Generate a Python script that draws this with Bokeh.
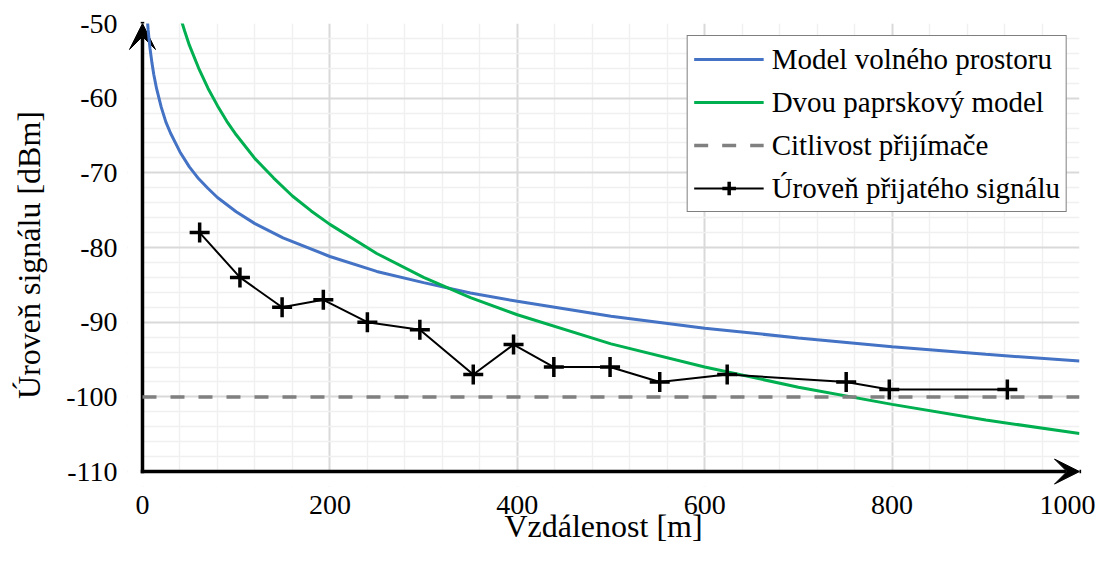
from bokeh.plotting import figure
from bokeh.models import Range1d, FixedTicker, Arrow, VeeHead, Legend, LegendItem, BoxAnnotation
from bokeh.embed import file_html
from bokeh.resources import INLINE

# ---- data ----
x_tick_values = [0, 200, 400, 600, 800, 1000]
x_minor_values = [40, 80, 120, 160, 240, 280, 320, 360, 440, 480, 520, 560,
                  640, 680, 720, 760, 840, 880, 920, 960]
y_tick_values = [-110, -100, -90, -80, -70, -60, -50]
y_tick_labels = ["-110", "-100", "-90", "-80", "-70", "-60", "-50"]
y_minor_values = [v for v in range(-110, -49, 2) if v % 10 != 0]

free_space_dist = [5, 6, 7, 8, 10, 12, 15, 20, 25, 30, 40, 50, 60, 70, 80, 100,
                   120, 150, 200, 250, 300, 350, 400, 500, 600, 700, 800, 900, 1000]
free_space_level = [-49.2, -50.8, -52.1, -53.3, -55.2, -56.8, -58.7, -61.2, -63.2,
                    -64.7, -67.2, -69.2, -70.8, -72.1, -73.3, -75.2, -76.8, -78.7,
                    -81.2, -83.2, -84.7, -86.1, -87.2, -89.2, -90.8, -92.1, -93.3,
                    -94.3, -95.2]

two_ray_dist = [40, 45, 50, 60, 70, 80, 90, 100, 120, 140, 160, 180, 200, 250,
                300, 350, 400, 500, 600, 700, 800, 900, 1000]
two_ray_level = [-49.0, -51.0, -52.9, -56.0, -58.7, -61.0, -63.1, -64.9, -68.1,
                 -70.7, -73.1, -75.1, -76.9, -80.8, -84.0, -86.7, -89.0, -92.9,
                 -96.0, -98.7, -101.0, -103.1, -104.9]

sensitivity_dbm = -100

measured_dist = [61, 104, 149, 193, 240, 296, 353, 396, 439, 499, 552, 624, 751, 797, 923]
measured_level = [-78, -84, -88, -87, -90, -91, -97, -93, -96, -96, -98, -97, -98, -99, -99]

series_labels = ["Model volného prostoru", "Dvou paprskový model",
                 "Citlivost přijímače", "Úroveň přijatého signálu"]
x_title = "Vzdálenost [m]"
y_title = "Úroveň signálu [dBm]"

X_MIN, X_MAX = 0, 1000
Y_MIN, Y_MAX = -110, -50
X_PAD, Y_PAD = 16, 2   # room in the frame for the axis arrow heads

FONT = "Liberation Serif"

p = figure(width=1095, height=546,
           x_range=Range1d(X_MIN - X_PAD, X_MAX), y_range=Range1d(Y_MIN - Y_PAD, Y_MAX),
           output_backend="svg", toolbar_location=None,
           min_border_left=127, min_border_right=16,
           min_border_top=23, min_border_bottom=60)
p.outline_line_color = None
p.background_fill_color = "white"
p.border_fill_color = "white"

xt = FixedTicker(ticks=x_tick_values, minor_ticks=x_minor_values)
yt = FixedTicker(ticks=y_tick_values, minor_ticks=y_minor_values)
p.xaxis.ticker = xt
p.yaxis.ticker = yt
p.xgrid.ticker = xt
p.ygrid.ticker = yt
p.yaxis.major_label_overrides = dict(zip(y_tick_values, y_tick_labels))

for ax in (p.xaxis[0], p.yaxis[0]):
    ax.axis_line_color = None
    ax.major_tick_line_color = None
    ax.minor_tick_line_color = None
    ax.major_tick_out = 0
    ax.major_tick_in = 0
    ax.minor_tick_out = 0
    ax.minor_tick_in = 0
    ax.major_label_text_font = FONT
    ax.major_label_text_font_size = "28px"
    ax.major_label_text_color = "black"
    ax.axis_label_text_font = FONT
    ax.axis_label_text_font_size = "32px"
    ax.axis_label_text_font_style = "normal"
    ax.axis_label_text_color = "black"
p.xaxis.major_label_standoff = 9
p.yaxis.major_label_standoff = 10
p.xaxis.axis_label = x_title
p.xaxis.axis_label_standoff = -9
p.yaxis.axis_label = y_title
p.yaxis.axis_label_standoff = 16

for g in (p.xgrid[0], p.ygrid[0]):
    g.grid_line_color = "#D9D9D9"
    g.grid_line_width = 2
    g.minor_grid_line_color = "#F0F0F0"
    g.minor_grid_line_width = 1.5

# hide grid stubs outside the axes (the frame is a bit larger than the axes)
p.add_layout(BoxAnnotation(right=X_MIN, fill_color="white", fill_alpha=1.0,
                           line_color=None, level="underlay"))
p.add_layout(BoxAnnotation(top=Y_MIN, fill_color="white", fill_alpha=1.0,
                           line_color=None, level="underlay"))

# axis arrows
x_arrow = Arrow(end=VeeHead(size=25, fill_color="black", line_color="black", line_width=1),
                x_start=X_MIN, y_start=Y_MIN, x_end=X_MAX, y_end=Y_MIN,
                line_color="black", line_width=3.5, line_cap="square", level="underlay")
y_arrow = Arrow(end=VeeHead(size=26, fill_color="black", line_color="black", line_width=1),
                x_start=X_MIN, y_start=Y_MIN, x_end=X_MIN, y_end=Y_MAX,
                line_color="black", line_width=3.5, line_cap="square", level="underlay")
p.add_layout(x_arrow)
p.add_layout(y_arrow)

r_blue = p.line(free_space_dist, free_space_level, line_color="#4472C4", line_width=3)
r_green = p.line(two_ray_dist, two_ray_level, line_color="#00B050", line_width=3)
r_sens = p.line([X_MIN, X_MAX], [sensitivity_dbm, sensitivity_dbm],
                line_color="#808080", line_width=3.5, line_dash="14 14")
r_meas = p.line(measured_dist, measured_level, line_color="black", line_width=2)
r_pts = p.scatter(measured_dist, measured_level, marker="cross", size=20,
                  line_color="black", line_width=3.5)

legend = Legend(items=[
    LegendItem(label=series_labels[0], renderers=[r_blue]),
    LegendItem(label=series_labels[1], renderers=[r_green]),
    LegendItem(label=series_labels[2], renderers=[r_sens]),
    LegendItem(label=series_labels[3], renderers=[r_meas, r_pts]),
], location="top_right")
legend.label_text_font = FONT
legend.label_text_font_size = "29px"
legend.label_text_color = "black"
legend.glyph_width = 70
legend.glyph_height = 34
legend.label_height = 34
legend.spacing = 9
legend.padding = 6
legend.label_standoff = 8
legend.margin = 12
legend.border_line_color = "black"
legend.border_line_width = 1.5
legend.background_fill_color = "white"
legend.background_fill_alpha = 1.0
p.add_layout(legend)

open("out.html", "w").write(file_html(p, INLINE))
